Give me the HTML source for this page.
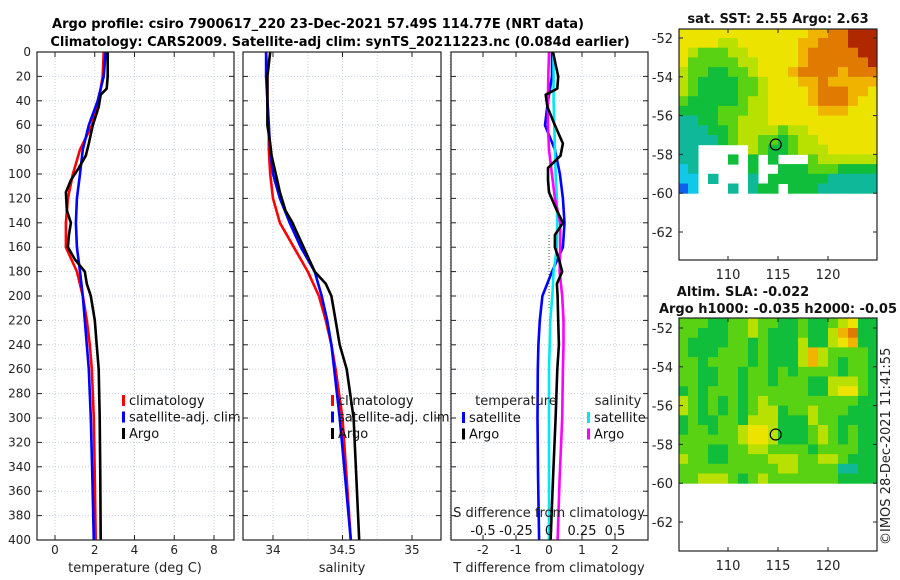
<!DOCTYPE html>
<html><head><meta charset="utf-8">
<style>
html,body{margin:0;padding:0;background:#fff;}
svg{display:block;font-family:"DejaVu Sans","Liberation Sans",sans-serif;}
</style></head>
<body>
<svg id="fig" width="900" height="580" viewBox="0 0 900 580" xmlns="http://www.w3.org/2000/svg">
<text x="318" y="28" font-size="13" font-weight="bold" text-anchor="middle">Argo profile: csiro 7900617_220 23-Dec-2021 57.49S 114.77E (NRT data)</text>
<text x="340" y="46" font-size="13" font-weight="bold" text-anchor="middle">Climatology: CARS2009. Satellite-adj clim: synTS_20211223.nc (0.084d earlier)</text>
<g id="p1"></g>
<g id="p2"></g>
<g id="p3"></g>
<g id="m1"></g>
<g id="m2"></g>
<text transform="translate(890,545) rotate(-90)" font-size="13" fill="#222">©IMOS 28-Dec-2021 11:41:55</text>
</svg>
<script>
// ---- data ----
const depths = [0,20,40,60,80,100,120,140,160,180,200,220,240,260,300,350,400];
const tempClim = [2.45,2.4,2.2,1.86,1.26,0.9,0.65,0.55,0.55,1.1,1.4,1.6,1.75,1.85,1.95,2.0,2.05];
const tempSat  = [2.55,2.45,2.15,1.7,1.4,1.26,1.1,1.05,1.1,1.26,1.4,1.5,1.6,1.7,1.8,1.88,1.95];
const argoDepths = [0,20,30,35,45,60,75,85,95,105,115,130,140,150,160,170,180,190,200,220,240,260,300,350,400];
const tempArgo = [2.65,2.65,2.6,2.3,2.2,1.9,1.7,1.55,1.2,0.8,0.55,0.6,0.8,0.7,0.65,1.0,1.5,1.6,1.8,2.0,2.1,2.2,2.25,2.28,2.3];
const salClim = [33.95,33.96,33.96,33.97,33.97,33.98,34.0,34.05,34.15,34.25,34.33,34.38,34.42,34.45,34.5,34.53,34.56];
const salSat  = [33.95,33.95,33.96,33.97,33.98,34.0,34.05,34.12,34.2,34.3,34.35,34.39,34.42,34.44,34.48,34.52,34.56];
const salArgo = [33.98,33.96,33.96,33.96,33.96,33.96,33.98,33.99,34.01,34.03,34.05,34.09,34.14,34.18,34.22,34.26,34.3,34.38,34.42,34.45,34.48,34.53,34.58,34.6,34.62];
const diffTSat  = [0.09,0.09,-0.03,-0.12,0.18,0.33,0.42,0.47,0.42,0.09,-0.2,-0.28,-0.32,-0.34,-0.35,-0.33,-0.3];
const diffSSat  = [0.033,0.035,0.035,0.04,0.045,0.05,0.06,0.062,0.06,0.035,0.025,0.01,0.005,0,0,0,0];
const diffSArgo = [0,-0.005,-0.008,-0.008,0.0,0.022,0.045,0.085,0.085,0.08,0.1,0.11,0.11,0.105,0.1,0.08,0.065];
const diffTArgo = [0.12,0.28,0.25,-0.1,-0.05,0.18,0.42,0.35,-0.03,-0.03,0.0,0.24,0.42,0.18,0.18,0.3,0.4,0.24,0.26,0.28,0.3,0.25,0.2,0.12,0.05];
const depthTicks = [0,20,40,60,80,100,120,140,160,180,200,220,240,260,280,300,320,340,360,380,400];
const tempTicks = [0,2,4,6,8];
const salTicks = [34,34.5,35];
const tdTicks = [-2,-1,0,1,2];
const sdTicks = [-0.5,-0.25,0,0.25,0.5];
const sdTickLabels = ["-0.5","-0.25","0","0.25","0.5"];
const latTicks = [-52,-54,-56,-58,-60,-62];
const lonTicks = [110,115,120];
const argoLon = 114.77, argoLat = -57.49;
const sstRows = [
"66666666666667788999",
"66665566666677888999",
"65444556666678888899",
"64444455666678888889",
"54433445666788887888",
"54333344566677877777",
"54333344566667888776",
"43333345566667888766",
"33334445566666777666",
"22334455566666666666",
"22233455554556666666",
"22223455443455666666",
"22.....5433455566666",
"22...3.3.3...4555555",
"12.....3..3334443333",
"11.2...2.33333322222",
"01...2.233.333222222"];
const slaRows = [
"44433445443343345633",
"44333445433343357833",
"43333443433353356733",
"43334443433357544443",
"44344443433357543443",
"44334434434344443443",
"44334434434443355543",
"34344434444443356643",
"54343434544444444433",
"54343434553445444333",
"34334435553335443333",
"34434456653334543433",
"44444456653334543433",
"44433445544443444433",
"54433444455544554333",
"44444444445544442233",
"44555434544444443333"];
const palette = ["#1060f0","#10c8e8","#10b89a","#10be3c","#5ad214","#b8e000","#ece400","#f0b400","#e07a00","#b02800"];

// ---- helpers ----
const NS="http://www.w3.org/2000/svg";
function mk(parent,tag,attrs){const e=document.createElementNS(NS,tag);for(const k in attrs)e.setAttribute(k,attrs[k]);parent.appendChild(e);return e;}
const Y0=52, Y1=540, DMAX=400;
const yD = d => Y0 + d*(Y1-Y0)/DMAX;
function lin(d0,d1,r0,r1){return v=>r0+(v-d0)*(r1-r0)/(d1-d0);}

function panel(g,x0,x1,xs,xticks,gridTicks,showDepthLabels){
  gridTicks.forEach(t=>{const l=mk(g,'line',{x1:xs(t),x2:xs(t),y1:Y0,y2:Y1,stroke:'#c9cfe6','stroke-width':1,'stroke-dasharray':'1,2'});
    });
  depthTicks.forEach(d=>{const l=mk(g,'line',{x1:x0,x2:x1,y1:yD(d),y2:yD(d),stroke:'#c9cfe6','stroke-width':1,'stroke-dasharray':'1,2'});
    
    mk(g,'line',{x1:x0,x2:x0+5,y1:yD(d),y2:yD(d),stroke:'#222'});
    mk(g,'line',{x1:x1-5,x2:x1,y1:yD(d),y2:yD(d),stroke:'#222'});
    if(showDepthLabels){const t=mk(g,'text',{x:x0-6,y:yD(d)+4,'font-size':12,'text-anchor':'end',fill:'#222'});t.textContent=d;
      }
  });
  xticks.forEach(t=>{mk(g,'line',{x1:xs(t),x2:xs(t),y1:Y1,y2:Y1-5,stroke:'#222'});mk(g,'line',{x1:xs(t),x2:xs(t),y1:Y0,y2:Y0+5,stroke:'#222'});
    const tx=mk(g,'text',{x:xs(t),y:Y1+14,'font-size':12,'text-anchor':'middle',fill:'#222'});tx.textContent=t;
    });
}
function frame(g,x0,x1){const r=mk(g,'rect',{x:x0,y:Y0,width:x1-x0,height:Y1-Y0,fill:'none',stroke:'#222','stroke-width':1.2});
  }
function line(g,xs,vals,ds,color,name,w){
  const pts=vals.map((v,i)=>xs(v).toFixed(1)+','+yD(ds[i]).toFixed(1)).join(' ');
  const p=mk(g,'polyline',{points:pts,fill:'none',stroke:color,'stroke-width':w||2.6,'stroke-linejoin':'round'});
  
}
function legend(g,x,y,items){
  items.forEach((it,i)=>{mk(g,'rect',{x:x,y:y+i*16.5-10,width:3,height:11,fill:it[1]});
    const t=mk(g,'text',{x:x+7,y:y+i*16.5,'font-size':13,fill:'#111'});t.textContent=it[0];
    });
}
function label(g,x,y,txt,name){const t=mk(g,'text',{x:x,y:y,'font-size':13,'text-anchor':'middle',fill:'#222'});t.textContent=txt;
  }

// Panel 1
const g1=document.getElementById('p1');
const xT=lin(0,8,55,214);
panel(g1,37,234,xT,tempTicks,tempTicks,true);
line(g1,xT,tempClim,depths,'#f00','climatology-line');
line(g1,xT,tempSat,depths,'#00f','satellite-clim-line');
line(g1,xT,tempArgo,argoDepths,'#000','argo-line');
frame(g1,37,234);
legend(g1,122,405,[["climatology","#f00"],["satellite-adj. clim","#00f"],["Argo","#000"]]);
label(g1,135,572,'temperature (deg C)','x-axis-title');

// Panel 2
const g2=document.getElementById('p2');
const xS=lin(34,35,273,412);
panel(g2,243,441,xS,salTicks,[33.75,34,34.25,34.5,34.75,35],false);
line(g2,xS,salClim,depths,'#f00','climatology-line');
line(g2,xS,salSat,depths,'#00f','satellite-clim-line');
line(g2,xS,salArgo,argoDepths,'#000','argo-line');
frame(g2,243,441);
legend(g2,331,405,[["climatology","#f00"],["satellite-adj. clim","#00f"],["Argo","#000"]]);
label(g2,342,572,'salinity','x-axis-title');

// Panel 3
const g3=document.getElementById('p3');
const xD=lin(0,1,549,582);
const xSD=v=>xD(v*4);
panel(g3,451,648,xD,tdTicks,[-3,-2,-1,0,1,2,3],false);
const dl=mk(g3,'line',{x1:xD(0),x2:xD(0),y1:yD(150),y2:yD(210),stroke:'#3a5a20','stroke-dasharray':'1,2'});

line(g3,xD,diffTSat,depths,'#00f','temperature-satellite-diff-line');
line(g3,xSD,diffSSat,depths,'#00e8f0','salinity-satellite-diff-line');
line(g3,xSD,diffSArgo,depths,'#f0f','salinity-argo-diff-line');
line(g3,xD,diffTArgo,argoDepths,'#000','temperature-argo-diff-line');
frame(g3,451,648);
label(g3,516,405,'temperature','legend-title');
legend(g3,462,422,[["satellite","#00f"],["Argo","#000"]]);
label(g3,618,405,'salinity','legend-title');
legend(g3,587,422,[["satellite","#00e8f0"],["Argo","#f0f"]]);
label(g3,549,517,'S difference from climatology','s-axis-title');
sdTicks.forEach((t,i)=>{const tx=mk(g3,'text',{x:xSD(t),y:535,'font-size':13,'text-anchor':'middle',fill:'#111'});tx.textContent=sdTickLabels[i];
  });
label(g3,549,572,'T difference from climatology','x-axis-title');

// Maps
function map(g,top,bottom,latRef,rows,title1){
  const x0=679,x1=877;
  const xL=lin(110,120,728,828);
  const yL=lin(-52,-62,latRef,latRef+194);
  rows.forEach((row,r)=>{
    for(let c=0;c<row.length;c++){
      const ch=row[c]; if(ch==='.')continue;
      const lon0=105+c, lat0=-51.5-r*0.5;
      const xa=Math.max(xL(lon0),x0), xb=Math.min(xL(lon0+1),x1);
      const ya=Math.max(yL(lat0),top), yb=yL(lat0-0.5);
      const cell=mk(g,'rect',{x:xa,y:ya,width:xb-xa+0.5,height:yb-ya+0.5,fill:palette[+ch]});
      
      
    }
  });
  const circ=mk(g,'circle',{cx:xL(argoLon),cy:yL(argoLat),r:5.5,fill:'none',stroke:'#000','stroke-width':1.2});
  
  const fr=mk(g,'rect',{x:x0,y:top,width:x1-x0,height:bottom-top,fill:'none',stroke:'#222','stroke-width':1.2});
  
  latTicks.forEach(t=>{mk(g,'line',{x1:x0,x2:x0+4,y1:yL(t),y2:yL(t),stroke:'#222'});mk(g,'line',{x1:x1-4,x2:x1,y1:yL(t),y2:yL(t),stroke:'#222'});
    const tx=mk(g,'text',{x:x0-6,y:yL(t)+5,'font-size':13,'text-anchor':'end',fill:'#222'});tx.textContent=t;
    });
  lonTicks.forEach(t=>{mk(g,'line',{x1:xL(t),x2:xL(t),y1:bottom,y2:bottom-4,stroke:'#222'});mk(g,'line',{x1:xL(t),x2:xL(t),y1:top,y2:top+4,stroke:'#222'});
    const tx=mk(g,'text',{x:xL(t),y:bottom+19,'font-size':13,'text-anchor':'middle',fill:'#222'});tx.textContent=t;
    });
  title1.forEach(tt=>{const tx=mk(g,'text',{x:tt[1],y:tt[2],'font-size':13,'font-weight':'bold','text-anchor':'middle',fill:'#111'});tx.textContent=tt[0];
    });
}
map(document.getElementById('m1'),29,260,38,sstRows,[["sat. SST: 2.55 Argo: 2.63",778,23]]);
map(document.getElementById('m2'),318,551,328,slaRows,[["Altim. SLA: -0.022",743,296],["Argo h1000: -0.035 h2000: -0.05",778,313]]);
</script>
</body></html>
